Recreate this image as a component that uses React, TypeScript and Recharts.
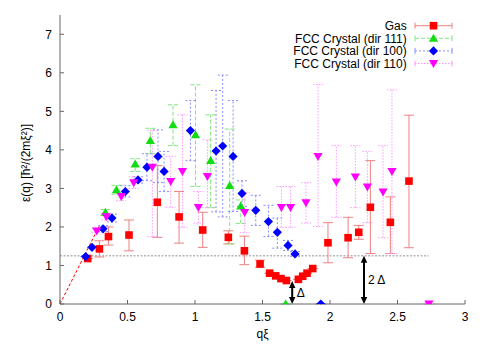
import { ErrorBar, Legend, ReferenceLine, Scatter, ScatterChart, XAxis, YAxis } from "recharts";

// Excitation spectrum: gas vs FCC crystal along three directions.
// Values (q in units of 1/xi, energy in hbar^2/(2m xi^2)).

const FONT = '"Liberation Sans", Arial, sans-serif';

const seriesNames = ["Gas", "FCC Crystal (dir 111)", "FCC Crystal (dir 100)", "FCC Crystal (dir 110)"];
const xTicks = [0, 0.5, 1, 1.5, 2, 2.5, 3];
const yTicks = [0, 1, 2, 3, 4, 5, 6, 7];

// Gas
const gasQ = [0.205, 0.292, 0.359, 0.511, 0.721, 0.882, 1.057, 1.247, 1.366, 1.482, 1.553, 1.598, 1.637, 1.677, 1.766, 1.798, 1.83, 1.872, 1.985, 2.134, 2.213, 2.299, 2.447, 2.585];
const gasE = [1.18, 1.43, 1.75, 1.79, 2.64, 2.26, 1.92, 1.73, 1.38, 1.04, 0.8, 0.73, 0.66, 0.61, 0.64, 0.72, 0.8, 0.92, 1.59, 1.72, 1.86, 2.51, 2.12, 3.19];
const gasLo = [null, 1.22, 1.53, 1.38, 1.73, 1.58, 1.47, 1.56, 1.02, 0.95, null, null, null, null, null, null, null, null, 1.07, 1.2, 1.68, 1.31, 1.31, 1.46];
const gasHi = [null, 1.64, 2.0, 2.18, 3.59, 2.92, 2.38, 1.9, 1.76, 1.14, null, null, null, null, null, null, null, null, 2.11, 2.25, 2.04, 3.72, 2.78, 4.9];

// dir 111
const d111Q = [0.336, 0.418, 0.557, 0.669, 0.837, 1.004, 1.116, 1.257, 1.339, 1.672];
const d111E = [2.38, 2.96, 3.63, 4.24, 4.65, 4.39, 3.72, 3.07, 2.54, 0];
const d111Lo = [2.3, 2.85, 3.44, 3.9, 4.11, 3.05, 2.5, 1.56, 2.09, null];
const d111Hi = [2.45, 3.08, 3.77, 4.56, 5.17, 5.69, 4.91, 4.54, 2.7, null];

// dir 100
const d100Q = [0.19, 0.237, 0.319, 0.385, 0.484, 0.578, 0.644, 0.726, 0.771, 0.966, 1.156, 1.205, 1.282, 1.348, 1.45, 1.544, 1.61, 1.689, 1.741, 1.932];
const d100E = [1.23, 1.47, 1.95, 2.23, 2.92, 3.22, 3.55, 3.83, 3.44, 4.5, 3.97, 4.1, 3.83, 2.87, 2.43, 2.14, 1.86, 1.52, 1.3, 0];
const d100Lo = [null, null, 1.88, 2.13, 2.78, 3.14, 3.2, 3.15, 2.92, 3.72, 2.39, 2.26, 2.4, 2.53, 2.04, 1.75, 1.45, 1.39, 1.24, null];
const d100Hi = [null, null, 2.03, 2.33, 3.07, 3.3, 3.9, 4.52, 3.96, 5.28, 5.54, 5.94, 5.28, 3.2, 2.82, 2.56, 2.23, 1.65, 1.36, null];

// dir 110
const d110Q = [0.272, 0.343, 0.454, 0.546, 0.684, 0.82, 0.907, 1.025, 1.092, 1.368, 1.64, 1.708, 1.822, 1.911, 2.047, 2.188, 2.277, 2.393, 2.459, 2.733];
const d110E = [1.9, 2.27, 2.79, 3.15, 3.55, 3.18, 3.44, 2.51, 3.31, 2.38, 2.51, 2.51, 2.63, 3.83, 3.17, 3.3, 3.04, 2.91, 3.44, 0];
const d110Lo = [1.85, 2.18, 2.68, 3.0, 1.75, 2.51, 1.99, 2.1, 2.5, 1.85, 1.99, 1.99, 2.1, 2.01, 2.25, 2.5, 2.11, 1.72, 1.31, null];
const d110Hi = [1.97, 2.35, 2.9, 3.3, 4.5, 3.83, 4.91, 2.92, 4.26, 2.89, 3.05, 3.05, 3.15, 5.7, 4.11, 4.11, 3.96, 4.11, 5.56, null];

// Bogoliubov slope at small q, gap level (2 Delta) and the Delta / 2 Delta markers
const slopeLine = [{ x: 0, y: 0 }, { x: 0.296, y: 2.06 }];
const gapLevel = 1.25;
const gapEnd = 2.73;
const deltaQ = 1.72;
const deltaTop = 0.6;
const twoDeltaQ = 2.252;

type Row = { q: number; e: number; err: [number, number] };

function buildSeries(q: number[], e: number[], lo: (number | null)[], hi: (number | null)[]): Row[] {
  return q.map((x, i) => {
    const l = lo[i];
    const h = hi[i];
    return {
      q: x,
      e: e[i],
      err: l == null || h == null ? [0, 0] : [e[i] - l, h - e[i]],
    };
  });
}

const gasData = buildSeries(gasQ, gasE, gasLo, gasHi);
const d111Data = buildSeries(d111Q, d111E, d111Lo, d111Hi);
const d100Data = buildSeries(d100Q, d100E, d100Lo, d100Hi);
const d110Data = buildSeries(d110Q, d110E, d110Lo, d110Hi);

const styles = [
  { color: "#ff0000", bar: "#f08080", dash: undefined as string | undefined, marker: "square" },
  { color: "#12dd12", bar: "#7fe67f", dash: "4 2", marker: "up" },
  { color: "#0000ff", bar: "#8c8cff", dash: "2 2", marker: "diamond" },
  { color: "#ff00ff", bar: "#ff99ff", dash: "1.5 1.5", marker: "down" },
];

function Marker({ kind, cx, cy, fill }: { kind: string; cx: number; cy: number; fill: string }) {
  if (kind === "square") return <rect x={cx - 3.8} y={cy - 3.8} width={7.6} height={7.6} fill={fill} />;
  if (kind === "diamond")
    return <polygon points={`${cx},${cy - 4.6} ${cx + 4.6},${cy} ${cx},${cy + 4.6} ${cx - 4.6},${cy}`} fill={fill} />;
  if (kind === "up")
    return <polygon points={`${cx},${cy - 4.6} ${cx + 4.6},${cy + 3.4} ${cx - 4.6},${cy + 3.4}`} fill={fill} />;
  return <polygon points={`${cx},${cy + 4.6} ${cx + 4.6},${cy - 3.4} ${cx - 4.6},${cy - 3.4}`} fill={fill} />;
}

function shapeFor(i: number) {
  return (p: any) => <Marker kind={styles[i].marker} cx={p.cx} cy={p.cy} fill={styles[i].color} />;
}

function DoubleArrow({ x1, y1, y2, text, dx }: any) {
  const top = Math.min(y1, y2);
  const bot = Math.max(y1, y2);
  const h = 7;
  const w = 3.2;
  return (
    <g>
      <line x1={x1} y1={top + h - 1} x2={x1} y2={bot - h + 1} stroke="#000" strokeWidth={2} />
      <polygon points={`${x1},${top} ${x1 - w},${top + h} ${x1 + w},${top + h}`} fill="#000" />
      <polygon points={`${x1},${bot} ${x1 - w},${bot - h} ${x1 + w},${bot - h}`} fill="#000" />
      <text x={x1 + dx} y={(top + bot) / 2} dy="0.35em" fontSize={12} fontFamily={FONT} fill="#000">
        {text}
      </text>
    </g>
  );
}

function LegendBox() {
  return (
    <svg width={210} height={56} style={{ display: "block" }}>
      {seriesNames.map((name, i) => {
        const y = 8.7 + i * 12.6;
        const s = styles[i];
        return (
          <g key={name}>
            <text x={156.7} y={y} dy="0.35em" textAnchor="end" fontSize={12} fontFamily={FONT} fill="#000">
              {name}
            </text>
            <line x1={165} y1={y} x2={202} y2={y} stroke={s.bar} strokeDasharray={s.dash} />
            <line x1={165} y1={y - 3} x2={165} y2={y + 3} stroke={s.bar} />
            <line x1={202} y1={y - 3} x2={202} y2={y + 3} stroke={s.bar} />
            <Marker kind={s.marker} cx={183.5} cy={y} fill={s.color} />
          </g>
        );
      })}
    </svg>
  );
}

const axisStroke = "#666";
const tickStyle = { fontSize: 12, fontFamily: FONT, fill: "#000" };

export default function App() {
  const series = [gasData, d111Data, d100Data, d110Data];
  return (
    <div style={{ width: 491, height: 344, background: "#fff" }}>
      <style>{"body{margin:0}"}</style>
      <ScatterChart width={491} height={344} margin={{ top: 15, right: 26, bottom: 0, left: 0 }}>
        <XAxis
          type="number"
          dataKey="q"
          domain={[0, 3]}
          ticks={xTicks}
          allowDataOverflow
          height={40}
          stroke={axisStroke}
          tickSize={-4}
          tickMargin={12}
          tick={tickStyle}
          label={{ value: "qξ", position: "insideBottom", offset: 6, fontSize: 12, fontFamily: FONT, fill: "#000" }}
        />
        <XAxis
          xAxisId="top"
          orientation="top"
          type="number"
          domain={[0, 3]}
          ticks={xTicks}
          allowDataOverflow
          height={0}
          stroke={axisStroke}
          tickSize={-4}
          tick={false}
        />
        <YAxis
          type="number"
          dataKey="e"
          domain={[0, 7.5]}
          ticks={yTicks}
          allowDataOverflow
          width={60}
          stroke={axisStroke}
          tickSize={-4}
          tickMargin={12}
          tick={tickStyle}
          label={{
            content: () => (
              <text
                x={26}
                y={163}
                transform="rotate(-90 26 163)"
                textAnchor="middle"
                dy="0.35em"
                fontSize={12}
                fontFamily={FONT}
                fill="#000"
              >
                ε(q)  [ħ²/(2mξ²)]
              </text>
            ),
          }}
        />
        <YAxis
          yAxisId="right"
          orientation="right"
          type="number"
          domain={[0, 7.5]}
          ticks={yTicks}
          allowDataOverflow
          width={0}
          stroke={axisStroke}
          tickSize={-4}
          tick={false}
        />
        <ReferenceLine segment={slopeLine} stroke="#ff0000" strokeDasharray="3 2" ifOverflow="visible" />
        <ReferenceLine
          segment={[{ x: 0, y: gapLevel }, { x: gapEnd, y: gapLevel }]}
          stroke="#777"
          strokeDasharray="2 1.5"
          strokeWidth={0.8}
          ifOverflow="visible"
        />
        <ReferenceLine
          segment={[{ x: deltaQ, y: 0 }, { x: deltaQ, y: deltaTop }]}
          ifOverflow="visible"
          shape={(p: any) => <DoubleArrow {...p} text="Δ" dx={4.5} />}
        />
        <ReferenceLine
          segment={[{ x: twoDeltaQ, y: 0 }, { x: twoDeltaQ, y: gapLevel }]}
          ifOverflow="visible"
          shape={(p: any) => <DoubleArrow {...p} text="2 Δ" dx={4} />}
        />
        {series.map((data, i) => (
          <Scatter
            key={seriesNames[i]}
            name={seriesNames[i]}
            data={data}
            isAnimationActive={false}
            shape={shapeFor(i)}
          >
            <ErrorBar
              dataKey="err"
              direction="y"
              width={5}
              stroke={styles[i].bar}
              strokeWidth={1}
              strokeDasharray={styles[i].dash}
              isAnimationActive={false}
            />
          </Scatter>
        ))}
        <Legend
          layout="horizontal"
          verticalAlign="middle"
          align="center"
          wrapperStyle={{ top: 17, left: 250, width: 210, height: 56 }}
          content={() => <LegendBox />}
        />
      </ScatterChart>
    </div>
  );
}
